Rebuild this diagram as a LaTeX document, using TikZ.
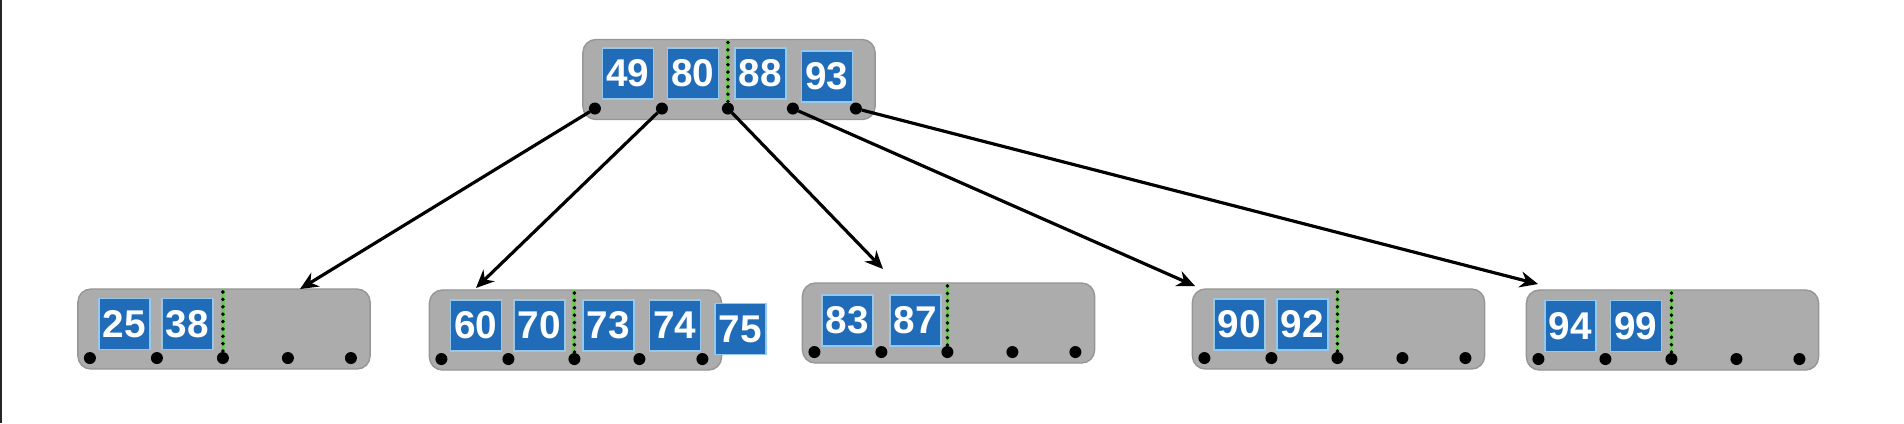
\documentclass[tikz,border=0pt]{standalone}
\usepackage{fontspec}
\setmainfont{Liberation Sans}
\usepackage{tikz}
\usetikzlibrary{calc,arrows.meta}
\definecolor{boxgray}{RGB}{172,172,172}
\definecolor{boxedge}{RGB}{150,150,150}
\definecolor{keyblue}{RGB}{33,108,184}
\definecolor{keyedge}{RGB}{150,200,235}
\definecolor{splitgreen}{RGB}{110,200,90}
\tikzset{
  nodebox/.style={draw=boxedge,fill=boxgray,line width=0.4pt,rounded corners=0.13cm,
    minimum width=2.92cm,minimum height=0.8cm,inner sep=0pt,outer sep=0pt},
  keybox/.style={draw=keyedge,fill=keyblue,line width=0.5pt,minimum size=0.51cm,inner sep=0pt,
    text=white,font=\bfseries\fontsize{11}{13}\selectfont},
  ptr/.style={circle,fill=black,minimum size=0.12cm,inner sep=0pt,outer sep=0pt},
  arr/.style={-{Stealth[length=1.8mm,width=1.6mm]},line width=0.9pt},
  split/.style={splitgreen,line width=1.1pt},
  splitdots/.style={black,line width=1.1pt,line cap=round,dash pattern=on 0pt off 2.1pt},
}

\begin{document}
\begin{tikzpicture}[x=0.01cm,y=-0.01cm]
  \useasboundingbox (0,0) rectangle (1904,423);
  \fill[black!85] (0,0) rectangle (2,423);
  % nodes of the tree
  \node[nodebox] (root) at (729,79.5) {};
  \node[nodebox] (leaf1) at (224,329) {};
  \node[nodebox] (leaf2) at (575.5,330) {};
  \node[nodebox] (leaf3) at (948.5,323) {};
  \node[nodebox] (leaf4) at (1338.5,329) {};
  \node[nodebox] (leaf5) at (1672.5,330) {};
  % pointers
  \foreach \b in {root,leaf1,leaf2,leaf3,leaf4,leaf5}{
    \foreach \i/\dx in {0/12,1/79,2/145,3/210,4/273}
      \node[ptr] (\b p\i) at ($(\b.south west)+(\dx,-11)$) {};
    \draw[split] ($(\b.north west)+(145,0)$) -- (\b p2);
    \draw[splitdots] ($(\b.north west)+(145,3)$) -- (\b p2);
  }
  % keys
  \node[keybox] (k49) at ($(root.north west)+(45,34)$) {49};
  \node[keybox] (k80) at ($(root.north west)+(110,34)$) {80};
  \node[keybox] (k88) at ($(root.north west)+(177.5,34)$) {88};
  \node[keybox] (k93) at ($(root.north west)+(244,37)$) {93};
  \node[keybox] (k25) at ($(leaf1.north west)+(46.5,35)$) {25};
  \node[keybox] (k38) at ($(leaf1.north west)+(109.5,35)$) {38};
  \node[keybox] (k60) at ($(leaf2.north west)+(46.5,35.5)$) {60};
  \node[keybox] (k70) at ($(leaf2.north west)+(110,35.5)$) {70};
  \node[keybox] (k73) at ($(leaf2.north west)+(179,35.5)$) {73};
  \node[keybox] (k74) at ($(leaf2.north west)+(245.5,35.5)$) {74};
  \node[keybox] (k75) at ($(leaf2.north west)+(311,39)$) {75};
  \node[keybox] (k83) at ($(leaf3.north west)+(45,37.5)$) {83};
  \node[keybox] (k87) at ($(leaf3.north west)+(113,37.5)$) {87};
  \node[keybox] (k90) at ($(leaf4.north west)+(47,35.5)$) {90};
  \node[keybox] (k92) at ($(leaf4.north west)+(110,35.5)$) {92};
  \node[keybox] (k94) at ($(leaf5.north west)+(44,36)$) {94};
  \node[keybox] (k99) at ($(leaf5.north west)+(109.5,36)$) {99};
  % child links
  \coordinate (t1) at (300,289);
  \coordinate (t2) at (476,288);
  \coordinate (t3) at (883,269);
  \coordinate (t4) at (1195,286);
  \coordinate (t5) at (1538,284);
  \draw[arr] (rootp0) -- (t1);
  \draw[arr] (rootp1) -- (t2);
  \draw[arr] (rootp2) -- (t3);
  \draw[arr] (rootp3) -- (t4);
  \draw[arr] (rootp4) -- (t5);
\end{tikzpicture}
\end{document}
